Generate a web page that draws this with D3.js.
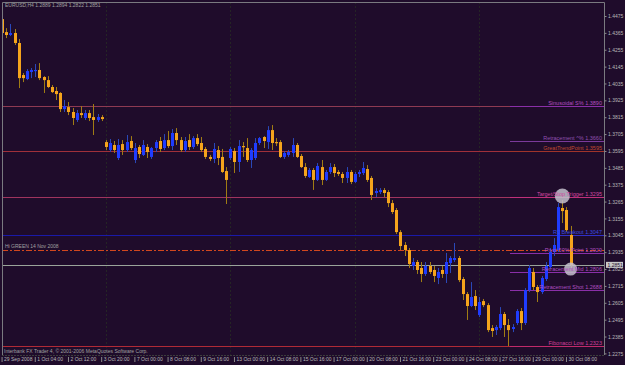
<!DOCTYPE html>
<html>
<head>
<meta charset="utf-8">
<script src="https://cdn.jsdelivr.net/npm/d3@7"></script>
<style>
  body { margin: 0; background: #1f0c2b; }
  svg { display: block; }
  text { font-family: "Liberation Sans", Arial, sans-serif; }
</style>
</head>
<body>
<div id="chart"></div>
<script>
var w = 625;
var h = 365;

// OHLC, one value per H4 bar
var opens = [1.4455,1.4370,1.4351,1.4364,1.4299,1.4090,1.4064,1.4110,1.4116,1.4123,
  1.4077,1.4057,1.4012,1.3986,1.3973,1.3868,1.3881,1.3849,1.3797,1.3842,
  1.3810,1.3842,1.3816,1.3797,1.3816,1.3653,1.3601,1.3634,1.3549,1.3640,
  1.3601,1.3660,1.3536,1.3621,1.3569,1.3621,1.3556,1.3614,1.3660,1.3614,
  1.3666,1.3627,1.3712,1.3666,1.3601,1.3666,1.3621,1.3679,1.3647,1.3608,
  1.3556,1.3543,1.3601,1.3556,1.3464,1.3549,1.3595,1.3523,1.3627,1.3614,
  1.3536,1.3549,1.3647,1.3686,1.3653,1.3731,1.3653,1.3653,1.3556,1.3569,
  1.3582,1.3634,1.3562,1.3490,1.3425,1.3471,1.3406,1.3490,1.3406,1.3458,
  1.3490,1.3458,1.3445,1.3419,1.3458,1.3393,1.3445,1.3451,1.3477,1.3419,
  1.3321,1.3327,1.3340,1.3327,1.3255,1.3210,1.3066,1.2982,1.2949,1.2845,
  1.2871,1.2832,1.2793,1.2845,1.2819,1.2767,1.2819,1.2793,1.2864,1.2884,
  1.2897,1.2760,1.2662,1.2584,1.2649,1.2525,1.2616,1.2590,1.2440,1.2427,
  1.2440,1.2532,1.2460,1.2434,1.2473,1.2551,1.2473,1.2688,1.2806,1.2708,
  1.2675,1.2760,1.2838,1.2936,1.2949,1.3223,1.3210,1.3047];
var highs = [1.4468,1.4396,1.4423,1.4390,1.4325,1.4103,1.4129,1.4136,1.4162,1.4168,
  1.4083,1.4083,1.4025,1.4012,1.3979,1.3927,1.3914,1.3875,1.3862,1.3888,
  1.3862,1.3862,1.3901,1.3836,1.3829,1.3666,1.3673,1.3660,1.3673,1.3666,
  1.3699,1.3692,1.3647,1.3634,1.3666,1.3640,1.3621,1.3666,1.3686,1.3705,
  1.3725,1.3738,1.3744,1.3686,1.3686,1.3705,1.3692,1.3705,1.3686,1.3621,
  1.3569,1.3647,1.3627,1.3608,1.3490,1.3621,1.3614,1.3666,1.3653,1.3679,
  1.3614,1.3679,1.3686,1.3692,1.3757,1.3764,1.3679,1.3666,1.3595,1.3601,
  1.3679,1.3647,1.3575,1.3516,1.3484,1.3484,1.3516,1.3536,1.3471,1.3516,
  1.3510,1.3471,1.3458,1.3490,1.3471,1.3458,1.3471,1.3523,1.3503,1.3432,
  1.3353,1.3353,1.3353,1.3340,1.3275,1.3223,1.3079,1.3001,1.2962,1.2897,
  1.2884,1.2871,1.2871,1.2871,1.2845,1.2832,1.2845,1.2930,1.2910,1.2995,
  1.2910,1.2773,1.2675,1.2740,1.2688,1.2643,1.2630,1.2603,1.2460,1.2460,
  1.2577,1.2545,1.2499,1.2466,1.2564,1.2571,1.2701,1.2851,1.2832,1.2721,
  1.2780,1.2871,1.2962,1.3027,1.3255,1.3275,1.3229,1.3106];
var lows = [1.4344,1.4331,1.4344,1.4286,1.4005,1.4044,1.4057,1.4070,1.4077,1.4057,
  1.3973,1.4005,1.3973,1.3927,1.3849,1.3849,1.3829,1.3764,1.3784,1.3810,
  1.3797,1.3790,1.3699,1.3784,1.3790,1.3601,1.3588,1.3582,1.3536,1.3569,
  1.3588,1.3601,1.3516,1.3549,1.3562,1.3549,1.3543,1.3588,1.3588,1.3601,
  1.3614,1.3601,1.3634,1.3588,1.3588,1.3601,1.3608,1.3627,1.3588,1.3543,
  1.3529,1.3516,1.3503,1.3451,1.3249,1.3536,1.3451,1.3458,1.3556,1.3523,
  1.3484,1.3536,1.3634,1.3614,1.3608,1.3601,1.3627,1.3549,1.3543,1.3556,
  1.3556,1.3549,1.3484,1.3419,1.3419,1.3341,1.3399,1.3373,1.3399,1.3445,
  1.3425,1.3432,1.3386,1.3386,1.3379,1.3386,1.3425,1.3438,1.3393,1.3275,
  1.3295,1.3314,1.3295,1.3229,1.3184,1.3053,1.2949,1.2910,1.2832,1.2819,
  1.2793,1.2740,1.2780,1.2793,1.2740,1.2727,1.2767,1.2734,1.2799,1.2871,
  1.2740,1.2623,1.2493,1.2577,1.2558,1.2512,1.2577,1.2414,1.2382,1.2395,
  1.2427,1.2382,1.2323,1.2414,1.2460,1.2427,1.2460,1.2675,1.2688,1.2610,
  1.2662,1.2747,1.2825,1.2910,1.2936,1.3125,1.3066,1.2832];
var closes = [1.4364,1.4351,1.4364,1.4299,1.4070,1.4070,1.4116,1.4123,1.4123,1.4070,
  1.4057,1.4012,1.3979,1.3966,1.3868,1.3888,1.3849,1.3810,1.3842,1.3829,
  1.3842,1.3810,1.3797,1.3816,1.3803,1.3621,1.3647,1.3601,1.3634,1.3601,
  1.3653,1.3614,1.3614,1.3575,1.3634,1.3588,1.3614,1.3653,1.3608,1.3666,
  1.3627,1.3712,1.3666,1.3601,1.3660,1.3621,1.3679,1.3640,1.3601,1.3556,
  1.3543,1.3608,1.3549,1.3458,1.3406,1.3608,1.3523,1.3627,1.3621,1.3536,
  1.3601,1.3647,1.3679,1.3660,1.3731,1.3647,1.3647,1.3556,1.3582,1.3588,
  1.3634,1.3556,1.3490,1.3432,1.3471,1.3406,1.3497,1.3406,1.3458,1.3490,
  1.3451,1.3445,1.3419,1.3458,1.3393,1.3445,1.3458,1.3484,1.3406,1.3308,
  1.3334,1.3340,1.3321,1.3255,1.3197,1.3066,1.2975,1.2949,1.2858,1.2871,
  1.2819,1.2793,1.2845,1.2806,1.2780,1.2806,1.2793,1.2871,1.2897,1.2897,
  1.2753,1.2662,1.2584,1.2643,1.2584,1.2610,1.2590,1.2427,1.2421,1.2447,
  1.2532,1.2460,1.2427,1.2447,1.2551,1.2473,1.2688,1.2832,1.2708,1.2675,
  1.2767,1.2845,1.2936,1.2982,1.3229,1.3203,1.3079,1.2851];

var priceTicks = [1.4475,1.4365,1.4255,1.4145,1.4035,1.3925,1.3815,1.3705,1.3595,1.3485,
  1.3375,1.3265,1.3155,1.3045,1.2935,1.2825,1.2715,1.2605,1.2495,1.2385,1.2275];

var timeTickBars = [0,8,16,24,32,40,48,56,64,72,80,88,96,104,112,120,128,136];
var timeTickLabels = ["29 Sep 2008","1 Oct 04:00","2 Oct 12:00","3 Oct 20:00","7 Oct 00:00",
  "8 Oct 08:00","9 Oct 16:00","13 Oct 00:00","14 Oct 08:00","15 Oct 16:00","17 Oct 00:00",
  "20 Oct 08:00","21 Oct 16:00","23 Oct 00:00","24 Oct 08:00","27 Oct 16:00","29 Oct 00:00",
  "30 Oct 08:00"];

// week separators (first bar of each week)
var weekStarts = [25, 55, 85, 115];

// levels drawn across the whole chart
var fullLevels = [1.3890, 1.3595, 1.3295, 1.3047, 1.2949, 1.2323];
// short labelled levels on the right
var levelNames = ["Sinusoidal S%", "Retracement ^%", "GreatTrendPoint", "Target/Stop Trigger",
  "R2 Breakout", "Pivot 50% Point", "Retracement Mid", "Retracement Shot", "Fibonacci Low"];
var levelPrices = [1.3890, 1.3660, 1.3595, 1.3295, 1.3047, 1.2929, 1.2806, 1.2688, 1.2323];

var markerBars = [135, 137];
var markerPrices = [1.3301, 1.2825];

var header = "EURUSD,H4  1.2889 1.2894 1.2822 1.2851";
var copyright = "Interbank FX Trader 4, \u00a9 2001-2006 MetaQuotes Software Corp.";
var leftNote = "Hi GREEN 14 Nov 2008";

var pL = 2, pR = 604, pT = 2, pB = 355;
var N = opens.length;

var xScale = d3.scaleBand()
  .domain(d3.range(146))
  .range([0, 4.15 * 146]);
var bw = xScale.bandwidth();
function cx(i) { return xScale(i) + bw / 2; }

var yScale = d3.scaleLinear()
  .domain([1.4475, 1.2275])
  .range([16, 353.4]);

var svg = d3.select("#chart")
  .append("svg")
  .attr("width", w)
  .attr("height", h);

svg.append("rect").attr("width", w).attr("height", h).attr("fill", "#1f0c2b");

svg.append("clipPath").attr("id", "clip")
  .append("rect").attr("x", pL).attr("y", pT).attr("width", pR - pL).attr("height", pB - pT);
var plot = svg.append("g").attr("clip-path", "url(#clip)");

// week separators
plot.selectAll(".sep")
  .data(weekStarts)
  .enter().append("line")
  .attr("x1", function(d) { return Math.round(cx(d)) + 0.5; })
  .attr("x2", function(d) { return Math.round(cx(d)) + 0.5; })
  .attr("y1", pT).attr("y2", pB)
  .attr("stroke", "#252525")
  .attr("stroke-dasharray", "2,2");

// full width levels
var fullColors = ["#8e3a52", "#a0303a", "#a0345e", "#1a1aa8", "#d2471e", "#b02a36"];
plot.selectAll(".lvl")
  .data(fullLevels)
  .enter().append("line")
  .attr("x1", pL).attr("x2", pR)
  .attr("y1", function(d) { return Math.round(yScale(d)) + 0.5; })
  .attr("y2", function(d) { return Math.round(yScale(d)) + 0.5; })
  .attr("stroke", function(d, i) { return fullColors[i]; })
  .attr("stroke-dasharray", function(d, i) { return i === 4 ? "6,2,2,2" : null; })
  .attr("stroke-width", 1);

// bid line
var lastClose = closes[N - 1];
plot.append("line")
  .attr("x1", pL).attr("x2", pR)
  .attr("y1", Math.round(yScale(lastClose)) + 0.5)
  .attr("y2", Math.round(yScale(lastClose)) + 0.5)
  .attr("stroke", "#9aa49a");

// short right segments + labels
var segColors = ["#8a2fa8", "#7a3a9a", "#a0342a", "#c0307a", "#3030c8", "#8a2fa8", "#8a2fa8", "#8a2fa8", "#c02a6a"];
var txtColors = ["#b34fc0", "#9050b0", "#c04a30", "#d048a0", "#3a4ae0", "#b04fc0", "#b04fc0", "#b04fc0", "#d0409a"];
plot.selectAll(".seg")
  .data(levelPrices)
  .enter().append("line")
  .attr("x1", 510).attr("x2", pR)
  .attr("y1", function(d) { return Math.round(yScale(d)) + 0.5; })
  .attr("y2", function(d) { return Math.round(yScale(d)) + 0.5; })
  .attr("stroke", function(d, i) { return segColors[i]; });

// candles
var bars = d3.range(N);
plot.selectAll(".wick")
  .data(bars)
  .enter().append("line")
  .attr("x1", function(i) { return Math.round(cx(i)) + 0.5; })
  .attr("x2", function(i) { return Math.round(cx(i)) + 0.5; })
  .attr("y1", function(i) { return yScale(highs[i]); })
  .attr("y2", function(i) { return yScale(lows[i]); })
  .attr("stroke", function(i) { return closes[i] >= opens[i] ? "#2a48b8" : "#a07c14"; })
  .attr("stroke-width", 1);

plot.selectAll(".body")
  .data(bars)
  .enter().append("rect")
  .attr("x", function(i) { return Math.round(cx(i)) - 1; })
  .attr("width", 3)
  .attr("y", function(i) { return yScale(Math.max(opens[i], closes[i])); })
  .attr("height", function(i) { return Math.max(1.2, Math.abs(yScale(opens[i]) - yScale(closes[i]))); })
  .attr("fill", function(i) { return closes[i] >= opens[i] ? "#1f3cff" : "#f5a41c"; });

// markers
plot.selectAll(".mark")
  .data(markerBars)
  .enter().append("circle")
  .attr("cx", function(d) { return cx(d); })
  .attr("cy", function(d, i) { return yScale(markerPrices[i]); })
  .attr("r", function(d, i) { return i === 0 ? 7.5 : 6.5; })
  .attr("fill", "#c4c0cc")
  .attr("opacity", 0.85);

svg.selectAll(".lvlText")
  .data(levelPrices)
  .enter().append("text")
  .attr("x", pR - 2)
  .attr("y", function(d) { return yScale(d) - 1; })
  .attr("text-anchor", "end")
  .attr("font-size", "5.5px")
  .attr("fill", function(d, i) { return txtColors[i]; })
  .text(function(d, i) { return levelNames[i] + "  " + d.toFixed(4); });

// frame
svg.append("path")
  .attr("d", "M" + (pL + 0.5) + "," + pB + "V" + (pT + 0.5) + "H" + (pR + 0.5) + "V" + pB)
  .attr("fill", "none")
  .attr("stroke", "#7a7a80");
svg.append("line")
  .attr("x1", pL).attr("x2", pR).attr("y1", pB + 0.5).attr("y2", pB + 0.5)
  .attr("stroke", "#3c3c3c").attr("stroke-dasharray", "2,1");

// price axis
var yAxis = d3.axisRight(yScale)
  .tickValues(priceTicks)
  .tickSize(2)
  .tickFormat(d3.format(".4f"));
var ya = svg.append("g")
  .attr("transform", "translate(" + (pR + 0.5) + ",0)")
  .call(yAxis);
ya.select(".domain").remove();
ya.selectAll("line").attr("stroke", "#8a8a8a");
ya.selectAll("text").attr("fill", "#b8b8b8").attr("font-size", "5px").attr("x", 3.5)
  .attr("font-family", "Liberation Sans, Arial, sans-serif");

// bid box
svg.append("rect")
  .attr("x", pR + 2).attr("y", yScale(lastClose) - 3.2)
  .attr("width", 17).attr("height", 6)
  .attr("fill", "#c8c8c8");
svg.append("text")
  .attr("x", pR + 3.5).attr("y", yScale(lastClose) + 1.8)
  .attr("font-size", "5px").attr("fill", "#1f0c2b")
  .text(lastClose.toFixed(4));

// time axis
var xAxis = d3.axisBottom(xScale)
  .tickValues(timeTickBars)
  .tickSize(5)
  .tickFormat(function(d, i) { return timeTickLabels[i]; });
var xa = svg.append("g")
  .attr("transform", "translate(0," + (pB + 2) + ")")
  .call(xAxis);
xa.select(".domain").remove();
xa.selectAll("line").attr("stroke", "#8a8a8a");
xa.selectAll("text")
  .attr("fill", "#b8b8b8").attr("font-size", "5px")
  .attr("text-anchor", "start").attr("x", 2).attr("y", 0).attr("dy", "0.71em")
  .attr("font-family", "Liberation Sans, Arial, sans-serif");

// texts
svg.append("text").attr("x", 5).attr("y", 7).attr("font-size", "5px").attr("fill", "#a0a0a0").text(header);
svg.append("text").attr("x", 4).attr("y", 353).attr("font-size", "5px").attr("fill", "#a0a0a0").text(copyright);
svg.append("text").attr("x", 5).attr("y", yScale(1.2949) - 2).attr("font-size", "5px").attr("fill", "#a0a0a0").text(leftNote);
</script>
</body>
</html>
